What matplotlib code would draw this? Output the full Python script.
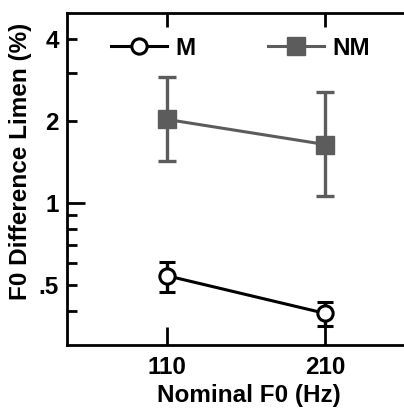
import matplotlib
matplotlib.use("Agg")
import matplotlib.pyplot as plt
from matplotlib.ticker import FixedLocator, NullFormatter
from matplotlib.lines import Line2D
import numpy as np

plt.rcParams['font.family'] = ['Liberation Sans', 'DejaVu Sans']
plt.rcParams['font.weight'] = 'bold'

# Nominal F0 conditions
f0_labels = ["110", "210"]

# F0 difference limens (%) with error bar extents
m_mean = [0.54, 0.392]
m_low = [0.47, 0.353]
m_high = [0.604, 0.432]

nm_mean = [2.03, 1.64]
nm_low = [1.43, 1.06]
nm_high = [2.90, 2.56]

y_ticks = [0.5, 1, 2, 4]
y_tick_labels = [".5", "1", "2", "4"]
y_minor = [0.4, 0.6, 0.7, 0.8, 0.9, 3]

gray = "#5c5c5c"
fs = 17.5

fig = plt.figure(figsize=(4.04, 4.09), dpi=100)
ax = fig.add_axes([67 / 404, 1 - 345 / 409, 1 - 67 / 404 + 0.002, (345 - 13) / 409])

x = np.arange(len(f0_labels))

def errs(mean, low, high):
    mean = np.array(mean)
    return np.vstack([mean - np.array(low), np.array(high) - mean])

ax.errorbar(x, nm_mean, yerr=errs(nm_mean, nm_low, nm_high), color=gray,
            lw=2.2, elinewidth=2.4, capsize=6.5, capthick=2.4,
            marker="s", ms=12.5, mfc=gray, mec=gray, zorder=3)
ax.errorbar(x, m_mean, yerr=errs(m_mean, m_low, m_high), color="black",
            lw=2.2, elinewidth=2.4, capsize=6, capthick=2.4,
            marker="o", ms=11, mfc="white", mec="black", mew=2.2, zorder=3)

ax.set_yscale("log")
ax.set_ylim(0.3, 5.0)
ax.set_xlim(-0.627, 1.50)

ax.yaxis.set_major_locator(FixedLocator(y_ticks))
ax.set_yticklabels(y_tick_labels)
ax.yaxis.set_minor_locator(FixedLocator(y_minor))
ax.yaxis.set_minor_formatter(NullFormatter())
ax.set_xticks(x)
ax.set_xticklabels(f0_labels)

for s in ["left", "top", "bottom"]:
    ax.spines[s].set_linewidth(2.0)
ax.spines["right"].set_visible(False)

ax.tick_params(axis="y", which="major", direction="in", length=7, width=2.0,
               labelsize=fs, pad=6)
ax.tick_params(axis="y", which="minor", direction="in", length=7, width=2.0)
ax.tick_params(axis="x", which="major", direction="in", length=10, width=2.0,
               labelsize=fs, pad=8, top=True)
# the unit tick is drawn longer than the others
ax.yaxis.get_major_ticks()[1].tick1line.set_markersize(13)
# bottom x ticks slightly longer than the top ones
for t in ax.xaxis.get_major_ticks():
    t.tick1line.set_markersize(13)

for lab in ax.get_xticklabels() + ax.get_yticklabels():
    lab.set_fontweight("bold")

ax.set_xlabel("Nominal F0 (Hz)", fontsize=fs, fontweight="bold")
ax.set_ylabel("F0 Difference Limen (%)", fontsize=fs, fontweight="bold")
ax.xaxis.set_label_coords(0.537, -0.118)
ax.yaxis.set_label_coords(-0.104, 0.554)

handles = [
    Line2D([], [], color="black", lw=2.2, marker="o", ms=11, mfc="white",
           mec="black", mew=2.2),
    Line2D([], [], color=gray, lw=2.2, marker="s", ms=12.5, mfc=gray, mec=gray),
]
leg = ax.legend(handles, ["M", "NM"], ncol=2, loc="upper left",
                bbox_to_anchor=(0.065, 0.995), frameon=False, handlelength=2.3,
                handletextpad=0.35, columnspacing=3.0,
                prop={"size": fs, "weight": "bold"})

fig.savefig("out.png", dpi=100)
